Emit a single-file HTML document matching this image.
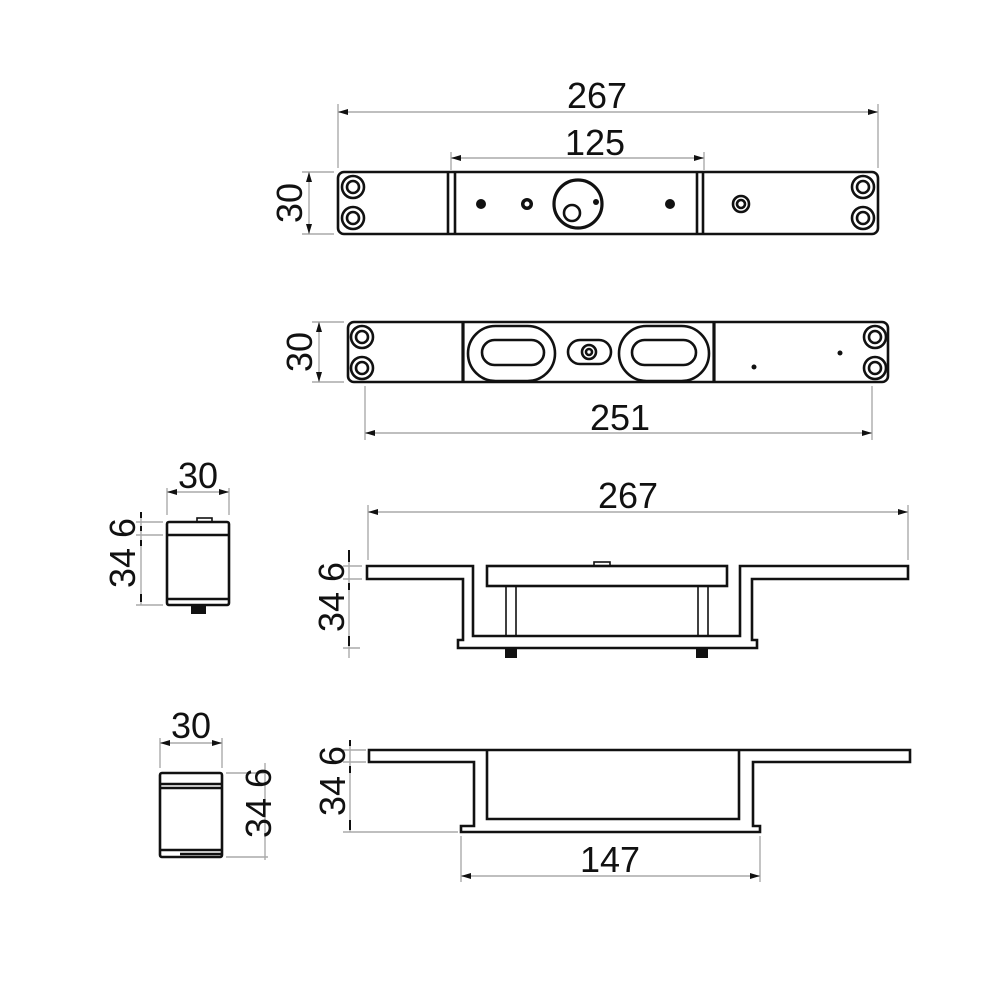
<!DOCTYPE html>
<html><head><meta charset="utf-8"><style>
html,body{margin:0;padding:0;background:#fff}
svg{display:block}
text{font-family:"Liberation Sans",sans-serif;font-size:36px;fill:#111}
.o{fill:none;stroke:#111;stroke-width:2.6}
.t{fill:none;stroke:#111;stroke-width:1.6}
.d{fill:none;stroke:#aaa;stroke-width:1.4}
</style></head><body>
<svg width="1000" height="1000" viewBox="0 0 1000 1000" xmlns="http://www.w3.org/2000/svg">
<defs>
<marker id="a" viewBox="0 0 10 6" refX="10" refY="3" markerWidth="10" markerHeight="6" orient="auto-start-reverse" markerUnits="userSpaceOnUse"><path d="M0,0 L10,3 L0,6z" fill="#111"/></marker>
</defs>

<!-- VIEW 1 -->
<line class="d" x1="338" y1="104" x2="338" y2="168"/><line class="d" x1="878" y1="104" x2="878" y2="168"/>
<line class="d" x1="338" y1="112" x2="878" y2="112" marker-start="url(#a)" marker-end="url(#a)"/>
<text x="597" y="108" text-anchor="middle">267</text>
<line class="d" x1="451" y1="152" x2="451" y2="170"/><line class="d" x1="704" y1="152" x2="704" y2="170"/>
<line class="d" x1="451" y1="158" x2="704" y2="158" marker-start="url(#a)" marker-end="url(#a)"/>
<text x="595" y="155" text-anchor="middle">125</text>
<line class="d" x1="302" y1="172" x2="334" y2="172"/><line class="d" x1="302" y1="234" x2="334" y2="234"/>
<line class="d" x1="309" y1="172" x2="309" y2="234" marker-start="url(#a)" marker-end="url(#a)"/>
<text transform="translate(302,203) rotate(-90)" text-anchor="middle">30</text>
<rect class="o" x="338" y="172" width="540" height="62" rx="6"/>
<line class="o" x1="448" y1="172" x2="448" y2="234"/><line class="o" x1="455" y1="172" x2="455" y2="234"/>
<line class="o" x1="697" y1="172" x2="697" y2="234"/><line class="o" x1="703" y1="172" x2="703" y2="234"/>
<g class="o">
<circle cx="353" cy="187" r="11"/><circle cx="353" cy="187" r="6"/>
<circle cx="353" cy="218" r="11"/><circle cx="353" cy="218" r="6"/>
<circle cx="863" cy="187" r="11"/><circle cx="863" cy="187" r="6"/>
<circle cx="863" cy="218" r="11"/><circle cx="863" cy="218" r="6"/>
<circle cx="578" cy="204" r="24" style="stroke-width:3.2"/>
<circle cx="572" cy="213" r="8"/>
<circle cx="741" cy="204" r="8"/><circle cx="741" cy="204" r="4"/>
</g>
<circle cx="481" cy="204" r="5" fill="#111"/><circle cx="527" cy="204" r="6" fill="#111"/><circle cx="527" cy="204" r="2.5" fill="#fff"/>
<circle cx="670" cy="204" r="5" fill="#111"/><circle cx="596" cy="202" r="3" fill="#111"/>

<!-- VIEW 2 -->
<line class="d" x1="312" y1="322" x2="344" y2="322"/><line class="d" x1="312" y1="382" x2="344" y2="382"/>
<line class="d" x1="319" y1="322" x2="319" y2="382" marker-start="url(#a)" marker-end="url(#a)"/>
<text transform="translate(312,352) rotate(-90)" text-anchor="middle">30</text>
<rect class="o" x="348" y="322" width="540" height="60" rx="6"/>
<line class="o" x1="463" y1="322" x2="463" y2="382" style="stroke-width:3.2"/>
<line class="o" x1="714" y1="322" x2="714" y2="382" style="stroke-width:3.2"/>
<g class="o">
<rect x="468" y="326" width="87" height="55" rx="27.5"/>
<rect x="482" y="340" width="62" height="25" rx="12.5"/>
<rect x="568" y="340" width="43" height="24" rx="12"/>
<circle cx="589" cy="352" r="7"/><circle cx="589" cy="352" r="3"/>
<rect x="619" y="326" width="90" height="55" rx="27.5"/>
<rect x="632" y="340" width="64" height="25" rx="12.5"/>
<circle cx="362" cy="337" r="11"/><circle cx="362" cy="337" r="6"/>
<circle cx="362" cy="368" r="11"/><circle cx="362" cy="368" r="6"/>
<circle cx="875" cy="337" r="11"/><circle cx="875" cy="337" r="6"/>
<circle cx="875" cy="368" r="11"/><circle cx="875" cy="368" r="6"/>
</g>
<circle cx="754" cy="367" r="2.5" fill="#111"/><circle cx="840" cy="353" r="2.5" fill="#111"/>
<line class="d" x1="365" y1="386" x2="365" y2="440"/><line class="d" x1="872" y1="386" x2="872" y2="440"/>
<line class="d" x1="365" y1="433" x2="872" y2="433" marker-start="url(#a)" marker-end="url(#a)"/>
<text x="620" y="430" text-anchor="middle">251</text>

<!-- VIEW 3 small -->
<line class="d" x1="167" y1="488" x2="167" y2="515"/><line class="d" x1="229" y1="488" x2="229" y2="515"/>
<line class="d" x1="167" y1="492" x2="229" y2="492" marker-start="url(#a)" marker-end="url(#a)"/>
<text x="198" y="488" text-anchor="middle">30</text>
<rect class="o" x="167" y="522" width="62" height="83" rx="2"/>
<line class="o" x1="167" y1="535" x2="229" y2="535"/><line class="o" x1="167" y1="599" x2="229" y2="599"/>
<rect x="197" y="518" width="15" height="4" class="t"/>
<rect x="191" y="605" width="15" height="9" fill="#111"/>
<line class="d" x1="136" y1="522" x2="163" y2="522"/><line class="d" x1="136" y1="535" x2="163" y2="535"/><line class="d" x1="136" y1="605" x2="163" y2="605"/>
<line class="d" x1="141" y1="512" x2="141" y2="605"/>
<line x1="141" y1="512" x2="141" y2="518" stroke="#111" stroke-width="2"/><line x1="141" y1="526" x2="141" y2="531" stroke="#111" stroke-width="2"/><line x1="141" y1="540" x2="141" y2="546" stroke="#111" stroke-width="2"/><line x1="141" y1="594" x2="141" y2="602" stroke="#111" stroke-width="2"/>
<text transform="translate(135,528) rotate(-90)" text-anchor="middle">6</text>
<text transform="translate(135,568) rotate(-90)" text-anchor="middle">34</text>

<!-- VIEW 3 side -->
<line class="d" x1="368" y1="505" x2="368" y2="560"/><line class="d" x1="908" y1="505" x2="908" y2="560"/>
<line class="d" x1="368" y1="512" x2="908" y2="512" marker-start="url(#a)" marker-end="url(#a)"/>
<text x="628" y="508" text-anchor="middle">267</text>
<path class="o" d="M367,566 L473,566 L473,636 L740,636 L740,566 L908,566 L908,579 L752,579 L752,640 L757,640 L757,648 L458,648 L458,640 L463,640 L463,579 L367,579 Z"/>
<rect class="o" x="487" y="566" width="240" height="20" fill="#fff"/>
<rect class="t" x="594" y="562" width="16" height="4"/>
<rect class="t" x="506" y="586" width="10" height="50"/><rect class="t" x="698" y="586" width="10" height="50"/>
<rect x="505" y="648" width="12" height="10" fill="#111"/><rect x="696" y="648" width="12" height="10" fill="#111"/>
<line class="d" x1="343" y1="566" x2="362" y2="566"/><line class="d" x1="343" y1="579" x2="362" y2="579"/><line class="d" x1="343" y1="648" x2="360" y2="648"/>
<line class="d" x1="349" y1="550" x2="349" y2="658"/>
<line x1="349" y1="550" x2="349" y2="562" stroke="#111" stroke-width="2"/><line x1="349" y1="583" x2="349" y2="590" stroke="#111" stroke-width="2"/><line x1="349" y1="636" x2="349" y2="646" stroke="#111" stroke-width="2"/>
<text transform="translate(344,572) rotate(-90)" text-anchor="middle">6</text>
<text transform="translate(344,612) rotate(-90)" text-anchor="middle">34</text>

<!-- VIEW 4 small -->
<line class="d" x1="160" y1="738" x2="160" y2="768"/><line class="d" x1="222" y1="738" x2="222" y2="768"/>
<line class="d" x1="160" y1="743" x2="222" y2="743" marker-start="url(#a)" marker-end="url(#a)"/>
<text x="191" y="738" text-anchor="middle">30</text>
<rect class="o" x="160" y="773" width="62" height="84" rx="2"/>
<line class="o" x1="160" y1="784" x2="222" y2="784"/><line class="o" x1="160" y1="788" x2="222" y2="788"/>
<line class="o" x1="160" y1="850" x2="222" y2="850"/><line class="o" x1="180" y1="854" x2="222" y2="854"/>
<line class="d" x1="226" y1="773" x2="268" y2="773"/><line class="d" x1="226" y1="857" x2="268" y2="857"/>
<line class="d" x1="265" y1="763" x2="265" y2="860"/>
<text transform="translate(271,778) rotate(-90)" text-anchor="middle">6</text>
<text transform="translate(271,818) rotate(-90)" text-anchor="middle">34</text>

<!-- VIEW 4 side -->
<path class="o" d="M369,750 L910,750 L910,762 L753,762 L753,826 L760,826 L760,832 L461,832 L461,826 L474,826 L474,762 L369,762 Z"/>
<path class="o" d="M487,751 L487,819 L739,819 L739,751"/>
<line class="d" x1="343" y1="750" x2="366" y2="750"/><line class="d" x1="343" y1="762" x2="366" y2="762"/><line class="d" x1="343" y1="832" x2="458" y2="832"/>
<line class="d" x1="350" y1="740" x2="350" y2="832"/>
<line x1="350" y1="740" x2="350" y2="746" stroke="#111" stroke-width="2"/><line x1="350" y1="766" x2="350" y2="773" stroke="#111" stroke-width="2"/><line x1="350" y1="820" x2="350" y2="830" stroke="#111" stroke-width="2"/>
<text transform="translate(345,756) rotate(-90)" text-anchor="middle">6</text>
<text transform="translate(345,796) rotate(-90)" text-anchor="middle">34</text>
<line class="d" x1="461" y1="836" x2="461" y2="882"/><line class="d" x1="760" y1="836" x2="760" y2="882"/>
<line class="d" x1="461" y1="876" x2="760" y2="876" marker-start="url(#a)" marker-end="url(#a)"/>
<text x="610" y="872" text-anchor="middle">147</text>
</svg>
</body></html>
